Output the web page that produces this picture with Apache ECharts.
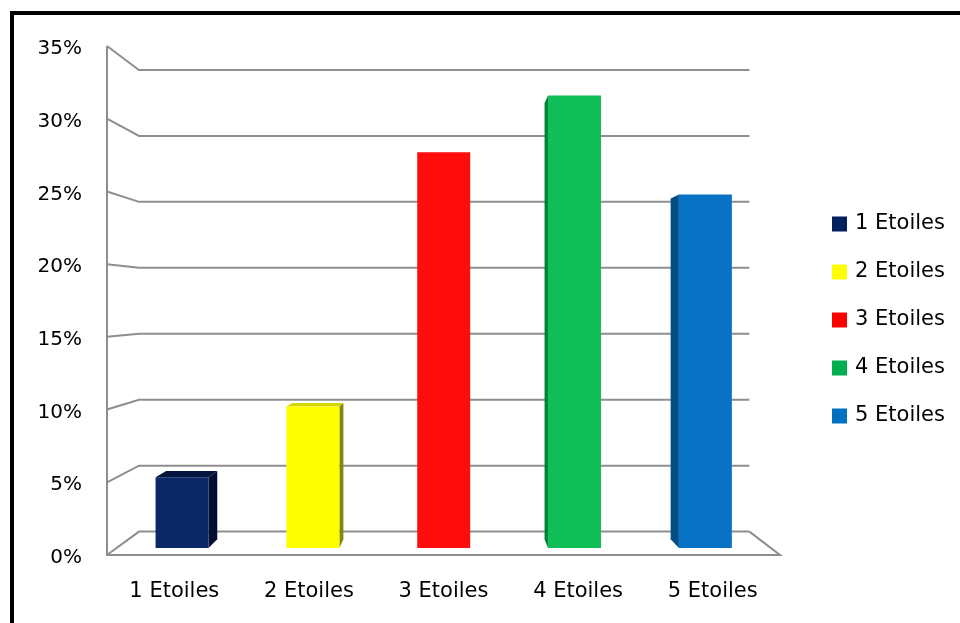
<!DOCTYPE html>
<html>
<head>
<meta charset="utf-8">
<script src="https://cdn.jsdelivr.net/npm/echarts@6/dist/echarts.min.js"></script>
<style>
  html, body { margin: 0; padding: 0; background: #fff; }
  #chart { width: 960px; height: 623px; }
</style>
</head>
<body>
<div id="chart"></div>
<script>
// data
const categories = ['1 Etoiles', '2 Etoiles', '3 Etoiles', '4 Etoiles', '5 Etoiles'];
const values = [5, 10, 28, 32, 25];
const yTicks = [0, 5, 10, 15, 20, 25, 30, 35];

// face colours: front, side, top
const frontColors = ['#0c2766', '#ffff00', '#ff0d0d', '#10be58', '#0873c4'];
const sideColors = ['#020f30', '#85850a', '#b30000', '#00843a', '#034c84'];
const topColors = ['#04153d', '#d4d400', '#d40000', '#0a9a45', '#0560a4'];
const legendColors = ['#002060', '#ffff00', '#ff0000', '#00b050', '#0070c0'];

// fake perspective: vanishing point (fraction of grid) and depth scales
const VP_FX = 0.511;
const VP_FY = 0.506;
const S_BAR_FRONT = 0.972;
const S_BAR_BACK = 0.937;
const S_WALL = 0.907;
const BAR_FRAC = 0.405;

function vanish(cs) {
    return [cs.x + cs.width * VP_FX, cs.y + cs.height * VP_FY];
}
function proj(vp, x, y, s) {
    return [vp[0] + s * (x - vp[0]), vp[1] + s * (y - vp[1])];
}

const lineStyle = { stroke: '#8e8e8e', lineWidth: 2, fill: null };

function renderWall(params, api) {
    const cs = params.coordSys;
    const vp = vanish(cs);
    const v = api.value(1);
    const bw = api.size([1, 0])[0];
    const left = api.coord([0, v])[0] - bw / 2;
    const right = api.coord([categories.length - 1, v])[0] + bw / 2;
    const y = api.coord([0, v])[1];
    const children = [{
        type: 'polyline',
        shape: { points: [[left, y], proj(vp, left, y, S_WALL), proj(vp, right, y, S_WALL)] },
        style: lineStyle
    }];
    if (params.dataIndex === 0) {
        const yTop = api.coord([0, yTicks[yTicks.length - 1]])[1];
        children.push({
            type: 'polyline',
            shape: { points: [[left, yTop], [left, y], [right, y], proj(vp, right, y, S_WALL)] },
            style: lineStyle
        });
    }
    return { type: 'group', children: children };
}

function renderBar(params, api) {
    const cs = params.coordSys;
    const vp = vanish(cs);
    const cat = api.value(0);
    const top = api.coord([cat, api.value(1)]);
    const base = api.coord([cat, 0]);
    const w = api.size([1, 0])[0] * BAR_FRAC;
    const x0 = top[0] - w / 2, x1 = top[0] + w / 2;
    const yT = top[1], yB = base[1];
    const F = S_BAR_FRONT, B = S_BAR_BACK;
    const children = [];
    if (proj(vp, x1, yT, F)[0] < vp[0]) {
        children.push({
            type: 'polygon',
            shape: { points: [proj(vp, x1, yT, F), proj(vp, x1, yT, B), proj(vp, x1, yB, B), proj(vp, x1, yB, F)] },
            style: { fill: sideColors[cat] }
        });
    }
    if (proj(vp, x0, yT, F)[0] > vp[0]) {
        children.push({
            type: 'polygon',
            shape: { points: [proj(vp, x0, yT, F), proj(vp, x0, yT, B), proj(vp, x0, yB, B), proj(vp, x0, yB, F)] },
            style: { fill: sideColors[cat] }
        });
    }
    if (proj(vp, x0, yT, F)[1] > vp[1]) {
        children.push({
            type: 'polygon',
            shape: { points: [proj(vp, x0, yT, F), proj(vp, x1, yT, F), proj(vp, x1, yT, B), proj(vp, x0, yT, B)] },
            style: { fill: topColors[cat] }
        });
    }
    const a = proj(vp, x0, yT, F), b = proj(vp, x1, yB, F);
    children.push({
        type: 'rect',
        shape: { x: a[0], y: a[1], width: b[0] - a[0], height: b[1] - a[1] },
        style: { fill: frontColors[cat] }
    });
    return { type: 'group', children: children };
}

const chart = echarts.init(document.getElementById('chart'), null, { renderer: 'canvas' });

const barSeries = categories.map((name, i) => ({
    name: name,
    type: 'custom',
    renderItem: renderBar,
    itemStyle: { color: legendColors[i] },
    data: [[i, values[i]]],
    z: 5
}));

const option = {
    animation: false,
    backgroundColor: '#fff',
    textStyle: { fontFamily: 'DejaVu Sans' },
    graphic: [{
        type: 'rect',
        shape: { x: 12, y: 13, width: 1200, height: 1200 },
        style: { fill: null, stroke: '#000', lineWidth: 4 }
    }],
    grid: { left: 107, right: 180, top: 46, bottom: 68 },
    xAxis: {
        type: 'category',
        data: categories,
        axisLine: { show: false },
        axisTick: { show: false },
        axisLabel: { margin: 26, fontSize: 21, color: '#000', fontFamily: 'DejaVu Sans' }
    },
    yAxis: {
        type: 'value',
        min: 0,
        max: 35,
        interval: 5,
        axisLine: { show: false },
        axisTick: { show: false },
        splitLine: { show: false },
        axisLabel: {
            margin: 25, color: '#000',
            formatter: '{v|{value}%}',
            rich: { v: { fontSize: 20, fontFamily: 'DejaVu Sans', color: '#000', padding: [6, 0, 0, 0] } }
        }
    },
    legend: {
        orient: 'vertical',
        left: 832,
        top: 213,
        padding: 0,
        icon: 'rect',
        itemWidth: 15,
        itemHeight: 15,
        itemGap: 26,
        textStyle: { fontSize: 21, color: '#000', fontFamily: 'DejaVu Sans', lineHeight: 22, padding: [0, 0, 0, 3] },
        data: categories
    },
    series: [{
        name: 'walls',
        type: 'custom',
        renderItem: renderWall,
        data: yTicks.map(v => [0, v]),
        silent: true,
        z: 1
    }].concat(barSeries)
};

chart.setOption(option);
</script>
</body>
</html>
